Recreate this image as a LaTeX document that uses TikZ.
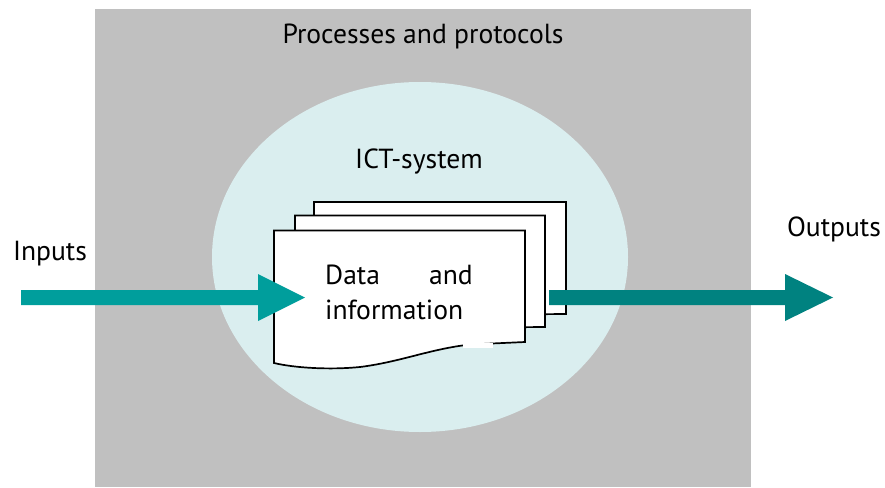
\documentclass[tikz,border=0pt]{standalone}
\usepackage{fontspec}
\setmainfont{PT Sans}
\definecolor{grayb}{HTML}{C0C0C0}
\definecolor{ell}{HTML}{DAEEEF}
\definecolor{arrA}{HTML}{009E9C}
\definecolor{arrB}{HTML}{008280}
\tikzset{lab/.style={font=\fontsize{27.6}{32}\selectfont,text=black,inner sep=0pt},
 doc/.style={draw=black,fill=white,line width=1.7pt,line join=miter}}
\begin{document}
\begin{tikzpicture}[x=1pt,y=-1pt]
\useasboundingbox (0,0) rectangle (885,487);
\fill[grayb] (95,9) rectangle (751,487);
\fill[ell] (420,257) ellipse [x radius=208, y radius=175];
\node[lab,anchor=base] (pp) at (423,44) {Processes and protocols};
\node[lab,anchor=base] (ict) at (419,168) {ICT-system};
\draw[doc] (314,202) -- (566,202) -- (566,314) -- (314,316) -- cycle;
\draw[doc] (295,215.5) -- (545,215.5) -- (545,327) -- (295,329) -- cycle;
\draw[doc] (274,230.5) -- (525,230.5) -- (525,342) -- (470,344.5) .. controls (430,349) and (400,362) .. (360,367) .. controls (330,370) and (295,368) .. (274,363) -- cycle;
\fill[white] (463,343) rectangle (493,347.5);
\node[lab,anchor=base west] (d1) at (325,284) {Data};
\node[lab,anchor=base east] (d2) at (473,284) {and};
\node[lab,anchor=base west] (d3) at (325,319) {information};
\node[lab,anchor=base] (in) at (50,260) {Inputs};
\node[lab,anchor=base] (out) at (834,236) {Outputs};
\fill[arrA] (21,290) -- (258,290) -- (258,274) -- (305,297.5) -- (258,321) -- (258,305) -- (21,305) -- cycle;
\fill[arrB] (549,290) -- (785,290) -- (785,274) -- (833,297.5) -- (785,321) -- (785,305) -- (549,305) -- cycle;
\end{tikzpicture}
\end{document}
